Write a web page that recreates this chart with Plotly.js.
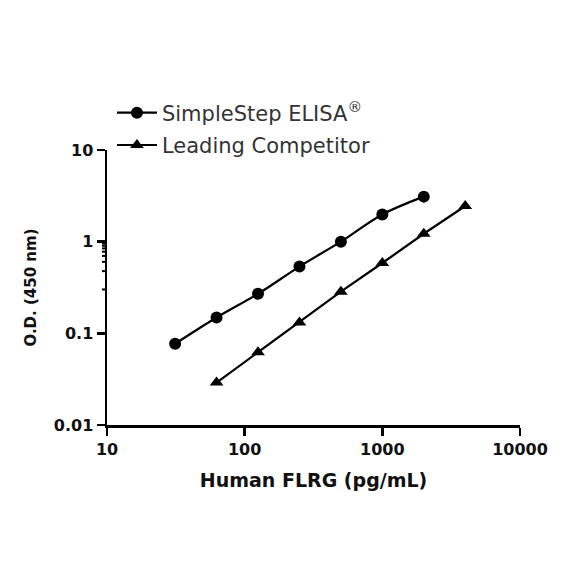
<!DOCTYPE html>
<html>
<head>
<meta charset="utf-8">
<script src="https://cdn.plot.ly/plotly-3.0.1.min.js"></script>
<style>html,body{margin:0;padding:0;background:#fff;}#chart{width:584px;height:584px;}</style>
</head>
<body>
<div id="chart"></div>
<script>
const simpleStepX = [31.25, 62.5, 125, 250, 500, 1000, 2000];
const simpleStepY = [0.077, 0.149, 0.27, 0.535, 1.0, 1.98, 3.1];
const competitorX = [62.5, 125, 250, 500, 1000, 2000, 4000];
const competitorY = [0.029, 0.062, 0.131, 0.285, 0.585, 1.22, 2.45];
const seriesNames = ['SimpleStep ELISA<sup>®</sup>', 'Leading Competitor'];
const xRangeLog = [1, 4];   // 10 .. 10000
const yRangeLog = [-2, 1];  // 0.01 .. 10

// minor tick positions (2..9 in each decade), as log10 values for shapes on log axes
function minorLogVals(lo, hi) {
  const out = [];
  for (let e = lo; e < hi; e++) {
    for (let d = 2; d <= 9; d++) out.push(Math.log10(d * Math.pow(10, e)));
  }
  return out;
}

const tickFont = {family: '"DejaVu Sans", sans-serif', size: 16, color: '#111', weight: 700};
const xTitleFont = {family: '"DejaVu Sans", sans-serif', size: 19, color: '#111', weight: 700};
const yTitleFont = {family: '"DejaVu Sans", sans-serif', size: 15, color: '#111', weight: 700};

const traces = [
  {
    x: simpleStepX, y: simpleStepY, name: seriesNames[0], type: 'scatter', mode: 'lines+markers',
    line: {color: '#000', width: 2.2, shape: 'spline'},
    marker: {symbol: 'circle', size: 12, color: '#000'},
    legendgroup: 'a'
  },
  {
    x: competitorX, y: competitorY, name: seriesNames[1], type: 'scatter', mode: 'lines+markers',
    line: {color: '#000', width: 2.2},
    marker: {symbol: 'triangle-up', size: 12, color: '#000'},
    legendgroup: 'b'
  }
];

const baseAxis = {
  type: 'log', showgrid: false, zeroline: false, showline: true, linecolor: '#000', linewidth: 2.5,
  tickmode: 'linear', tick0: 0, dtick: 1, tickformat: '~g',
  ticks: 'outside', ticklen: 8, tickwidth: 2.5, tickcolor: '#000', tickfont: tickFont
};

const plotW = 584 - 107 - 64;
const plotH = 584 - 150 - 159;
const minorLen = 5;
const minorShapes = [];
minorLogVals(xRangeLog[0], xRangeLog[1]).forEach(lv => minorShapes.push({
  type: 'line', xref: 'x', yref: 'paper',
  x0: lv, x1: lv, y0: 0, y1: -minorLen / plotH,
  line: {color: '#000', width: 2}, layer: 'above'
}));
minorLogVals(yRangeLog[0], yRangeLog[1]).forEach(lv => minorShapes.push({
  type: 'line', yref: 'y', xref: 'paper',
  y0: lv, y1: lv, x0: 0, x1: -minorLen / plotW,
  line: {color: '#000', width: 2}, layer: 'above'
}));

const layout = {
  width: 584, height: 584,
  margin: {l: 107, r: 64, t: 150, b: 159},
  paper_bgcolor: '#fff', plot_bgcolor: '#fff',
  showlegend: true,
  legend: {
    x: 0.012, y: 1.209, xanchor: 'left', yanchor: 'top',
    font: {family: '"DejaVu Sans", sans-serif', size: 21, color: '#333'},
    traceorder: 'grouped', tracegroupgap: 2, itemwidth: 40,
    bgcolor: 'rgba(0,0,0,0)'
  },
  xaxis: Object.assign({}, baseAxis, {
    range: xRangeLog,
    title: {text: 'Human FLRG (pg/mL)', font: xTitleFont, standoff: 16}
  }),
  yaxis: Object.assign({}, baseAxis, {
    range: yRangeLog,
    title: {text: 'O.D. (450 nm)', font: yTitleFont, standoff: 14}
  }),
  shapes: minorShapes
};

Plotly.newPlot('chart', traces, layout, {displayModeBar: false, staticPlot: true});
</script>
</body>
</html>
